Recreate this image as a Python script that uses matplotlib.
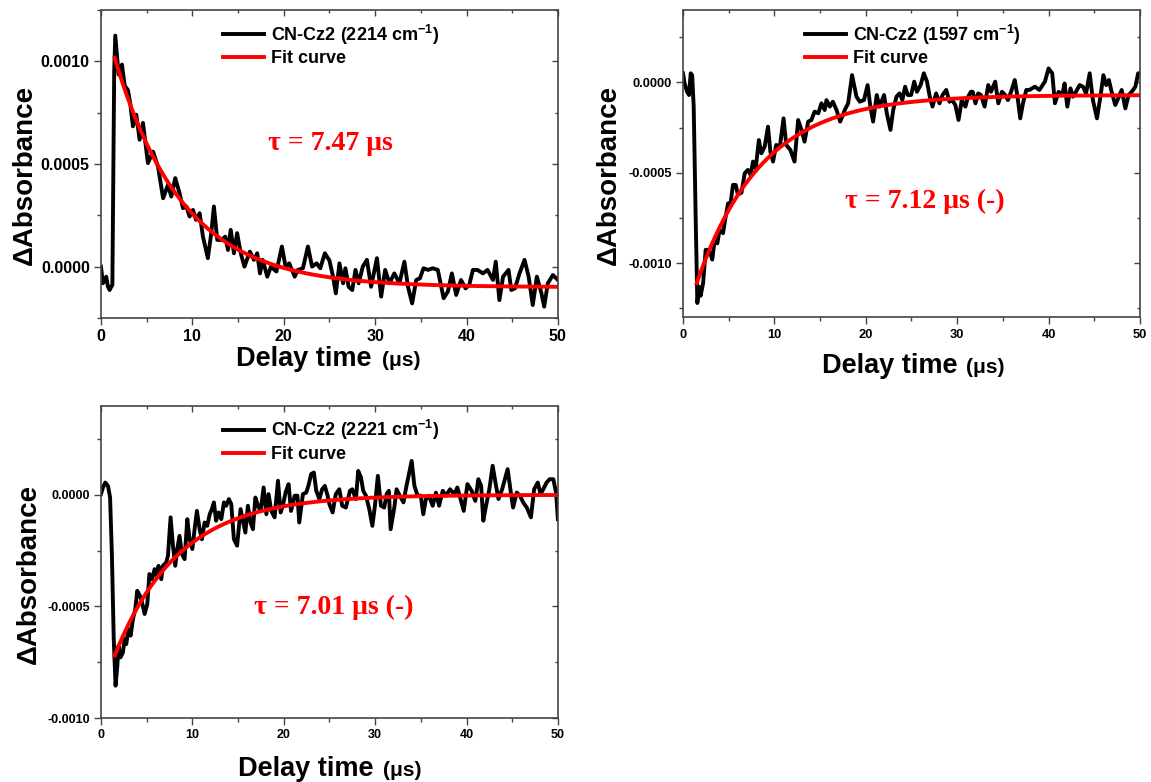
import numpy as np
import matplotlib
matplotlib.use("Agg")
import matplotlib.pyplot as plt
from matplotlib.ticker import MultipleLocator, FormatStrFormatter

plt.rcParams['font.family'] = ['Liberation Sans', 'DejaVu Sans']
plt.rcParams['font.weight'] = 'bold'
plt.rcParams['mathtext.default'] = 'regular'
plt.rcParams['axes.unicode_minus'] = False

# Transient IR traces of CN-Cz2 (delay in us, dA in units of 1e-4)
time_2214 = [0.0, 0.22, 0.58, 0.77, 0.95, 1.13, 1.25, 1.45, 1.57, 1.93, 2.3, 2.6, 2.95,
             3.2, 3.5, 3.87, 4.23, 4.6, 5.14, 5.7, 6.24, 6.8, 7.33, 7.7, 8.13, 8.6,
             8.97, 9.34, 9.7, 10.07, 10.4, 10.8, 11.16, 11.7, 12.07, 12.36, 12.73,
             13.2, 13.6, 13.9, 14.2, 14.55, 14.9, 15.3, 15.7, 16.3, 16.74, 17.1, 17.4,
             17.7, 18.2, 18.6, 19.2, 19.8, 20.2, 20.6, 21.2, 21.55, 22.1, 22.65, 23.1,
             23.6, 24.0, 24.5, 25.0, 25.4, 25.7, 26.1, 26.5, 26.75, 27.1, 27.5, 27.85,
             28.2, 28.65, 29.1, 29.56, 30.2, 30.66, 31.1, 31.57, 32.1, 32.66, 33.2,
             33.6, 34.05, 34.5, 34.9, 35.3, 35.8, 36.3, 36.86, 37.5, 37.96, 38.4,
             38.87, 39.4, 39.9, 40.3, 40.7, 41.2, 41.8, 42.3, 42.9, 43.2, 43.6, 44.0,
             44.6, 44.9, 45.3, 45.8, 46.35, 46.8, 47.25, 47.7, 48.2, 48.5, 48.9,
             49.45, 50.0]
dA_2214 = [0.0, -0.81, -0.49, -0.98, -1.14, -0.98, -0.9, 9.5, 11.25, 9.35, 9.84, 8.8, 8.6,
           7.97, 6.83, 7.4, 6.18, 7.0, 5.04, 5.6, 4.88, 3.33, 3.98, 3.41, 4.31, 3.58,
           2.85, 2.93, 2.44, 2.76, 2.28, 2.6, 1.46, 0.41, 1.63, 2.93, 1.3,
           1.3, 1.46, 0.81, 1.79, 0.65, 1.63, 0.65, 0.0, 0.73, 0.33, 0.65, -0.33,
           0.33, -0.49, 0.0, -0.24, 0.98, 0.0, 0.16, -0.49, -0.16, -0.08, 0.98, 0.0,
           0.16, -0.08, 0.65, 0.3, -0.49, -1.3, 0.16, -0.81, -0.08, -0.98, -1.14, -0.16,
           -0.81, 0.0, 0.33, -0.98, 0.41, -1.46, -0.16, -0.81, -0.33, -0.81, 0.24,
           -0.98, -1.79, -0.65, -0.57, -0.08, -0.16, -0.08, -0.16, -1.54, -1.22, -0.33,
           -1.38, -0.65, -1.06, -0.89, -0.16, -0.16, -0.33, -0.16, -0.65, 0.24, -1.63, -0.49,
           -0.16, -1.14, -1.06, -0.33, 0.33, -0.49, -1.87, -0.49, -1.3, -1.95, -0.81,
           -0.41, -0.65]

time_1597 = [0.0, 0.18, 0.44, 0.66, 0.84, 1.0, 1.17, 1.39, 1.57, 1.75, 1.93, 2.2, 2.48,
             2.74, 3.0, 3.2, 3.47, 3.76, 4.0, 4.38, 4.67, 4.93, 5.2, 5.47, 5.77, 6.0,
             6.4, 6.75, 7.1, 7.4, 7.66, 7.96, 8.3, 8.58, 8.94, 9.3, 9.56, 9.85, 10.2,
             10.6, 11.0, 11.3, 11.75, 12.2, 12.6, 12.96, 13.3, 13.7, 14.05, 14.4, 14.8,
             15.15, 15.5, 15.7, 16.06, 16.4, 16.8, 17.2, 17.7, 18.07, 18.5, 18.98,
             19.34, 19.8, 20.2, 20.5, 20.8, 21.2, 21.5, 22.0, 22.3, 22.7, 23.0, 23.36,
             23.7, 24.0, 24.3, 24.6, 24.96, 25.3, 25.6, 26.0, 26.35, 26.7, 27.0, 27.3,
             27.7, 28.07, 28.4, 28.8, 29.16, 29.45, 29.8, 30.15, 30.5, 30.9, 31.2,
             31.5, 31.7, 32.0, 32.3, 32.6, 33.0, 33.4, 33.7, 34.16, 34.5, 34.9, 35.26,
             35.55, 35.9, 36.3, 36.6, 36.9, 37.2, 37.56, 37.9, 38.5, 39.0, 39.6, 40.0,
             40.4, 40.7, 41.1, 41.5, 41.75, 42.05, 42.4, 42.67, 43.0, 43.4, 43.76,
             44.1, 44.5, 44.85, 45.3, 45.7, 46.0, 46.3, 46.6, 46.9, 47.3, 47.7, 48.0,
             48.4, 48.76, 49.1, 49.5, 49.8, 50.0]
dA_1597 = [0.5, -0.06, -0.52, -0.7, 0.5, 0.4, -1.34, -7.6, -12.2, -11.3, -11.8, -11.1, -9.26,
           -9.26, -9.45, -9.8, -8.7, -8.9, -8.16, -8.34, -7.42, -6.69, -6.69, -5.67, -5.67, -6.2,
           -6.1, -5.03, -4.84, -5.12, -4.38, -4.75, -3.19, -3.92, -3.55, -2.45, -3.83, -4.38, -3.46,
           -3.55, -1.99, -3.46, -3.74, -4.38, -2.08, -2.63, -3.28, -2.17, -2.08, -1.62, -1.71,
           -1.16, -1.53, -0.98, -1.34, -1.07, -1.53, -2.17, -1.53, -1.16, 0.4, -0.79,
           -1.07, -0.98, -0.15, -1.34, -2.17, -0.7, -1.34, -0.7, -1.71, -2.63, -1.53, -0.79,
           -0.61, -0.98, -0.24, -0.7, -0.7, 0.04, -0.52, -0.15, 0.5, 0.04, -0.79, -1.34,
           -0.61, -1.16, -0.7, -0.42, -1.07, -0.98, -1.25, -2.08, -0.98, -1.34, -0.79,
           -0.52, -0.52, -1.16, -0.61, -0.7, -1.34, -0.15, -0.52, 0.04, -1.16, -0.52, -0.7,
           -0.98, -0.52, 0.13, -0.79, -1.99, -1.16, -0.42, -0.42, -0.24, -0.42, 0.04, 0.77,
           0.5, -1.16, -0.52, -0.7, -0.06, -1.34, -0.33, -0.79, -0.52, -0.15, -0.24,
           -0.61, 0.5, -0.98, -1.99, -0.7, 0.4, -0.15, 0.13, -0.52, -1.25, -0.79, -0.42,
           -1.44, -0.7, -0.52, -0.24, 0.5, 0.5]

time_2221 = [0.0, 0.22, 0.47, 0.77, 1.0, 1.2, 1.4, 1.6, 1.79, 1.93, 2.15, 2.4, 2.6, 2.77,
             3.0, 3.25, 3.5, 3.76, 3.97, 4.27, 4.5, 4.78, 5.07, 5.3, 5.58, 5.87, 6.1,
             6.3, 6.6, 6.78, 7.15, 7.33, 7.62, 7.88, 8.13, 8.35, 8.6, 8.86, 9.15, 9.45,
             9.7, 10.0, 10.25, 10.5, 10.8, 11.05, 11.34, 11.63, 11.9, 12.14, 12.36,
             12.6, 12.87, 13.17, 13.46, 13.7, 14.0, 14.26, 14.55, 14.9, 15.28, 15.5,
             15.8, 16.08, 16.37, 16.63, 16.9, 17.18, 17.47, 17.8, 18.1, 18.34, 18.64,
             19.0, 19.37, 19.66, 19.9, 20.2, 20.53, 20.8, 21.2, 21.5, 21.7, 22.1, 22.46,
             22.7, 23.0, 23.3, 23.56, 23.9, 24.2, 24.5, 24.8, 25.0, 25.35, 25.7, 26.08,
             26.4, 26.8, 27.25, 27.5, 27.9, 28.15, 28.45, 28.7, 29.0, 29.36, 29.7, 30.0,
             30.3, 30.64, 31.0, 31.26, 31.5, 31.7, 32.1, 32.35, 32.7, 33.1, 33.4, 33.7,
             34.0, 34.3, 34.65, 35.0, 35.27, 35.56, 35.9, 36.3, 36.65, 37.0, 37.4,
             37.75, 38.2, 38.66, 39.0, 39.4, 39.7, 40.1, 40.56, 40.96, 41.3, 41.6,
             41.84, 42.1, 42.5, 42.86, 43.2, 43.5, 43.9, 44.2, 44.5, 44.9, 45.1, 45.5,
             45.85, 46.2, 46.6, 47.05, 47.4, 47.8, 48.1, 48.4, 48.76, 49.1, 49.5, 49.8,
             50.0]
dA_2221 = [0.03, 0.33, 0.55, 0.4, -0.12, -2.7, -6.46, -8.55, -7.66, -6.76, -7.28, -7.06, -6.46,
           -6.69, -6.01, -6.31, -5.57, -5.12, -4.3, -4.52, -4.82, -5.34, -4.9, -3.55, -3.78,
           -3.33, -3.63, -3.18, -3.78, -3.18, -3.03, -2.73, -1.01, -2.28, -3.18, -2.43, -1.84,
           -2.66, -2.88, -1.09, -1.99, -2.43, -1.54, -0.72, -1.54, -1.99, -1.24, -1.39, -0.87,
           -0.64, -0.34, -1.16, -0.79, -1.09, -0.34, -0.49, -0.19, -0.42, -1.99, -2.28, -0.64,
           -1.09, -1.69, -0.49, -1.24, -1.54, -0.12, -0.49, -0.72, 0.33, -0.87, 0.03, -0.72,
           -1.01, 0.63, -0.79, -0.49, 0.1, 0.48, -0.72, -0.04, -0.04, -1.24, 0.03, 0.1, 0.4,
           0.93, 1.0, 0.18, -0.19, 0.25, 0.4, -0.04, -0.42, -0.79, 0.03, 0.25, -0.49, -0.57,
           0.18, 0.25, -0.19, 1.07, 0.78, 0.18, -0.04, -0.64, -1.39, -0.42, 0.85, -0.49,
           -0.57, 0.03, 0.18, -1.54, -0.57, 0.25, -0.04, -0.34, 0.33, 0.93, 1.52, 0.4,
           -0.04, -0.04, -0.87, -0.19, -0.04, -0.49, 0.1, -0.49, 0.18, -0.04, 0.25, 0.03,
           0.33, -0.27, -0.72, 0.48, 0.18, -0.27, 0.7, 0.4, -1.16, -0.57, 0.25, 1.3,
           0.48, -0.19, 0.25, 0.7, 1.15, -0.04, -0.57, 0.1, -0.04, -0.34, -0.57, -1.01,
           0.25, 0.55, 0.03, 0.25, 0.55, 0.7, 0.7, 0.1, -1.09]

labels = ['CN-Cz2 (2214 cm$^{-1}$)', 'CN-Cz2 (1597 cm$^{-1}$)', 'CN-Cz2 (2221 cm$^{-1}$)']

# Mono-exponential fit: dA = offset + amp * exp(-(t - t0) / tau)
fit_tau = [7.47, 7.12, 7.01]
fit_amp = [11.16, -10.4, -7.2]
fit_offset = [-1.0, -0.7, 0.0]
fit_t0 = 1.5
tau_text = ['τ = 7.47 μs', 'τ = 7.12 μs (-)', 'τ = 7.01 μs (-)']


def fit_curve(t, amp, offset, tau):
    return (offset + amp * np.exp(-(t - fit_t0) / tau)) * 1e-4


def style_axes(ax, ylim, tick_size):
    ax.set_xlim(0, 50)
    ax.set_ylim(*ylim)
    ax.xaxis.set_major_locator(MultipleLocator(10))
    ax.xaxis.set_minor_locator(MultipleLocator(5))
    ax.yaxis.set_major_locator(MultipleLocator(0.0005))
    ax.yaxis.set_minor_locator(MultipleLocator(0.00025))
    ax.yaxis.set_major_formatter(FormatStrFormatter('%.4f'))
    ax.tick_params(which='both', direction='out', top=False, right=False,
                   color='#444444', width=1.0)
    ax.tick_params(which='major', length=5, labelsize=tick_size, pad=3)
    ax.tick_params(which='minor', length=3)
    # mirrored ticks on the top and right frame
    top = ax.secondary_xaxis('top')
    top.xaxis.set_major_locator(MultipleLocator(10))
    top.xaxis.set_minor_locator(MultipleLocator(5))
    right = ax.secondary_yaxis('right')
    right.yaxis.set_major_locator(MultipleLocator(0.0005))
    right.yaxis.set_minor_locator(MultipleLocator(0.00025))
    for sec, side in [(top, 'top'), (right, 'right')]:
        sec.tick_params(which='both', direction='in', color='#444444', width=1.0,
                        labeltop=False, labelright=False)
        sec.tick_params(which='major', length=4)
        sec.tick_params(which='minor', length=2)
        sec.spines[side].set_visible(False)
    for sp in ax.spines.values():
        sp.set_color('#444444')
        sp.set_linewidth(1.2)


def draw_panel(ax, t, dA, i, ylim, tick_size, ylab_x, ylab_y, xlab_y, split, tau_pos):
    ax.plot(t, np.array(dA) * 1e-4, color='black', lw=2.8, solid_joinstyle='round',
            label=labels[i])
    tf = np.linspace(fit_t0, 50, 300)
    ax.plot(tf, fit_curve(tf, fit_amp[i], fit_offset[i], fit_tau[i]), color='#ff0000',
            lw=2.8, label='Fit curve')
    style_axes(ax, ylim, tick_size)

    ax.legend(loc='upper left', bbox_to_anchor=(0.255, 0.977), frameon=False,
              fontsize=13, handlelength=2.3, handletextpad=0.35,
              labelspacing=0.2, borderpad=0.3, borderaxespad=0)

    ax.set_ylabel('ΔAbsorbance', fontsize=20, fontweight='bold')
    ax.yaxis.set_label_coords(ylab_x, ylab_y)
    ax.text(split[0], xlab_y, 'Delay time', transform=ax.transAxes, fontsize=19.5,
            fontweight='bold', ha='right', va='baseline')
    ax.text(split[1], xlab_y, '(μs)', transform=ax.transAxes, fontsize=15,
            fontweight='bold', ha='left', va='baseline')

    ax.text(tau_pos[0], tau_pos[1], tau_text[i], transform=ax.transAxes, color='#ff0000',
            fontsize=20, fontweight='bold', family='Liberation Serif',
            ha='center', va='center')


def main():
    fig = plt.figure(figsize=(11.51, 7.82), dpi=100)
    ax1 = fig.add_axes([0.0877, 0.5934, 0.397, 0.3939])
    ax2 = fig.add_axes([0.5934, 0.5940, 0.397, 0.3932])
    ax3 = fig.add_axes([0.0877, 0.0818, 0.397, 0.3996])

    draw_panel(ax1, time_2214, dA_2214, 0, (-0.00025, 0.00125), 11.5,
               -0.138, 0.464, -0.156, (0.593, 0.615), (0.502, 0.565))
    draw_panel(ax2, time_1597, dA_1597, 1, (-0.0013, 0.0004), 9.3,
               -0.133, 0.464, -0.18, (0.600, 0.619), (0.530, 0.376))
    draw_panel(ax3, time_2221, dA_2221, 2, (-0.0010, 0.0004), 9,
               -0.130, 0.461, -0.185, (0.597, 0.617), (0.510, 0.355))

    fig.savefig('out.png', dpi=100)


if __name__ == "__main__":
    main()
